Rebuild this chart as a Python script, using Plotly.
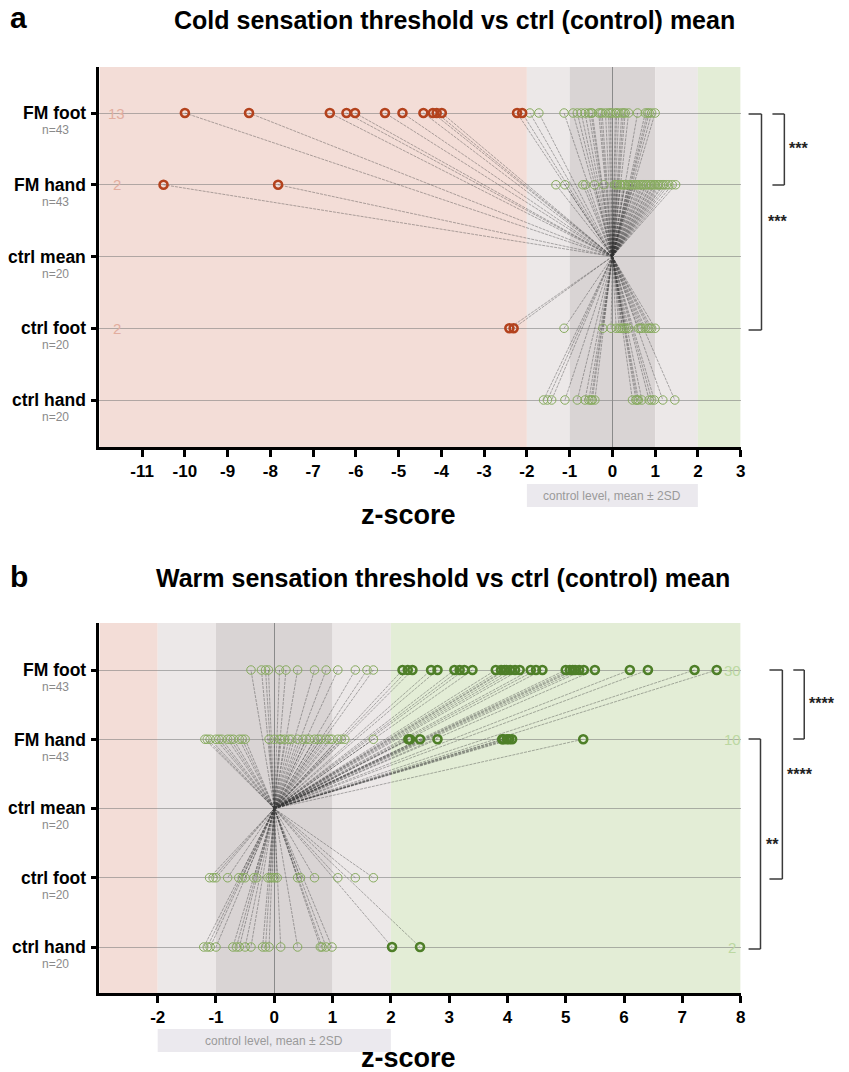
import plotly.graph_objects as go

# ---------------- data (z-scores) ----------------
rows = ["FM foot", "FM hand", "ctrl mean", "ctrl foot", "ctrl hand"]
row_n = ["n=43", "n=43", "n=20", "n=20", "n=20"]

cold_fm_foot = [-10.0, -8.5, -6.61, -6.22, -6.02, -5.32, -4.91, -4.42, -4.2, -4.11, -3.99, -2.23, -2.11,
                -1.93, -1.72, -1.13, -0.92, -0.82, -0.73, -0.64, -0.55, -0.5, -0.47, -0.32, -0.28, -0.24,
                -0.16, -0.09, -0.05, -0.01, 0.07, 0.1, 0.15, 0.22, 0.26, 0.30, 0.38, 0.59, 0.77, 0.82,
                0.86, 0.92, 1.0]
cold_fm_hand = [-10.5, -7.82, -1.32, -1.11, -0.69, -0.63, -0.42, -0.20,
                0.05, 0.09, 0.12, 0.18, 0.2, 0.25, 0.28, 0.3, 0.36, 0.38, 0.43, 0.47, 0.5, 0.55, 0.57,
                0.62, 0.66, 0.7, 0.73, 0.78, 0.8, 0.85, 0.9, 0.92, 0.97, 1.0, 1.05, 1.08, 1.12, 1.17,
                1.2, 1.26, 1.32, 1.4, 1.48]
cold_ctrl_foot = [-2.41, -2.31, -1.13, -0.22, -0.03, 0.09, 0.16, 0.2, 0.24, 0.28, 0.32, 0.38, 0.61,
                  0.65, 0.69, 0.77, 0.84, 0.88, 0.92, 1.0]
cold_ctrl_hand = [-1.61, -1.52, -1.42, -1.11, -0.82, -0.64, -0.55, -0.5, -0.47, -0.41, 0.47, 0.55,
                  0.58, 0.61, 0.69, 0.86, 0.92, 0.98, 1.18, 1.46]

warm_fm_foot = [-0.40, -0.22, -0.15, -0.10, 0.09, 0.20, 0.40, 0.69, 0.89, 1.09, 1.39, 1.59, 1.70,
                2.20, 2.29, 2.37, 2.69, 2.80, 3.09, 3.18, 3.26, 3.40, 3.80, 3.89, 3.95, 3.98, 4.05,
                4.13, 4.21, 4.40, 4.49, 4.60, 5.00, 5.07, 5.12, 5.16, 5.23, 5.31, 5.50, 6.10, 6.41,
                7.21, 7.59]
warm_fm_hand = [-1.19, -1.15, -1.10, -1.00, -0.95, -0.90, -0.80, -0.75, -0.70, -0.60, -0.55, -0.50,
                -0.09, 0.0, 0.09, 0.12, 0.18, 0.25, 0.30, 0.40, 0.49, 0.55, 0.60, 0.69, 0.75, 0.80,
                0.89, 0.95, 0.99, 1.09, 1.15, 1.21, 1.70,
                2.30, 2.33, 2.50, 2.80, 3.91, 3.93, 3.99, 4.03, 4.08, 5.30]
warm_ctrl_foot = [-1.11, -1.05, -1.00, -0.80, -0.61, -0.55, -0.50, -0.35, -0.30, -0.11, -0.07, -0.03,
                  0.01, 0.05, 0.40, 0.45, 0.69, 1.09, 1.39, 1.70]
warm_ctrl_hand = [-1.21, -1.15, -1.10, -1.00, -0.71, -0.65, -0.60, -0.50, -0.40, -0.20, -0.15, -0.09,
                  0.11, 0.40, 0.79, 0.82, 0.89, 0.99, 2.02, 2.50]

cold_ticks = list(range(-11, 4))
warm_ticks = list(range(-2, 9))
band_edges = [-2, -1, 1, 2]   # control level, mean ± 1SD / ± 2SD

# ---------------- styling ----------------
W, H = 849, 1072
FONT = "Liberation Sans, Arial, sans-serif"
RED = "#b3421d"
GREEN_BOLD = "#4e7f28"
GREEN_LIGHT = "#87ab5e"
C_RED_BG = "#f3ddd7"
C_LGRAY = "#ece8e8"
C_DGRAY = "#d9d4d4"
C_GREEN_BG = "#e3edd6"


def px(x):
    return x / W


def py(y):
    return 1 - y / H


fig = go.Figure()

panels = [
    dict(xa="x", ya="y", xaxis="xaxis", yaxis="yaxis",
         top=67, bottom=447, cat_y=[113, 185, 257, 328, 400],
         rng=[-12, 3], ticks=cold_ticks, data=[cold_fm_foot, cold_fm_hand, None, cold_ctrl_foot, cold_ctrl_hand],
         abnormal=lambda v: v < -2, bold_col=RED, cnt_col="#e2ad9f", cnt_x=-11.6,
         title="Cold sensation threshold vs ctrl (control) mean", title_y=20, title_x=457, letter="a",
         box_y=(484, 507), zs_y=515),
    dict(xa="x2", ya="y2", xaxis="xaxis2", yaxis="yaxis2",
         top=623, bottom=993, cat_y=[670, 740, 808, 878, 947],
         rng=[-3, 8], ticks=warm_ticks, data=[warm_fm_foot, warm_fm_hand, None, warm_ctrl_foot, warm_ctrl_hand],
         abnormal=lambda v: v > 2, bold_col=GREEN_BOLD, cnt_col="#bcd8a2", cnt_x=7.86,
         title="Warm sensation threshold vs ctrl (control) mean", title_y=578, title_x=446, letter="b",
         box_y=(1029, 1052), zs_y=1058),
]

shapes = []
annotations = []

for p in panels:
    y0, y1 = p["cat_y"][0], p["cat_y"][-1]
    unit = (y1 - y0) / 4
    yr = [4 + (p["bottom"] - y1) / unit, -(y0 - p["top"]) / unit]
    lo, hi = p["rng"]

    # background bands
    bands = [(lo, band_edges[0], C_RED_BG), (band_edges[0], band_edges[1], C_LGRAY),
             (band_edges[1], band_edges[2], C_DGRAY), (band_edges[2], band_edges[3], C_LGRAY),
             (band_edges[3], hi, C_GREEN_BG)]
    for a, b, c in bands:
        shapes.append(dict(type="rect", xref=p["xa"], yref=p["ya"] + " domain", x0=a, x1=b, y0=0, y1=1,
                           fillcolor=c, line_width=0, layer="below"))

    # connecting lines from ctrl mean (0, row 2)
    lx, ly = [], []
    for ri, vals in enumerate(p["data"]):
        if vals is None:
            continue
        for v in vals:
            lx += [0, v, None]
            ly += [2, ri, None]
    fig.add_trace(go.Scatter(x=lx, y=ly, mode="lines", xaxis=p["xa"], yaxis=p["ya"],
                             line=dict(color="rgba(55,55,55,0.65)", width=0.6, dash="3px,1px"),
                             hoverinfo="skip", showlegend=False))

    # markers
    for ri, vals in enumerate(p["data"]):
        if vals is None:
            continue
        norm = [v for v in vals if not p["abnormal"](v)]
        abn = [v for v in vals if p["abnormal"](v)]
        fig.add_trace(go.Scatter(x=norm, y=[ri] * len(norm), mode="markers", xaxis=p["xa"], yaxis=p["ya"],
                                 marker=dict(symbol="circle-open", size=8.5, color=GREEN_LIGHT,
                                             line=dict(width=1, color=GREEN_LIGHT)),
                                 showlegend=False))
        if abn:
            fig.add_trace(go.Scatter(x=abn, y=[ri] * len(abn), mode="markers", xaxis=p["xa"], yaxis=p["ya"],
                                     marker=dict(symbol="circle-open", size=8, color=p["bold_col"],
                                                 line=dict(width=2.6, color=p["bold_col"])),
                                     showlegend=False))
            annotations.append(dict(x=p["cnt_x"], y=ri, xref=p["xa"], yref=p["ya"], text=str(len(abn)),
                                    showarrow=False, font=dict(family=FONT, size=15, color=p["cnt_col"]),
                                    xanchor="center", yanchor="middle"))

    fig.update_layout(**{
        p["xaxis"]: dict(domain=[px(100), px(745)], range=[lo, hi], tickvals=p["ticks"],
                         ticktext=[str(t) for t in p["ticks"]], anchor=p["ya"],
                         showline=True, linewidth=3, linecolor="black", mirror=False,
                         ticks="outside", ticklen=7, tickwidth=2.5, tickcolor="black",
                         tickfont=dict(family=FONT, size=17, color="black", weight="bold"),
                         showgrid=False, zeroline=True, zerolinecolor="#8a8a8a", zerolinewidth=1),
        p["yaxis"]: dict(domain=[py(p["bottom"]), py(p["top"])], range=yr, anchor=p["xa"],
                         tickvals=[0, 1, 2, 3, 4], showticklabels=False,
                         showline=True, linewidth=3, linecolor="black",
                         ticks="outside", ticklen=5, tickwidth=3, tickcolor="black",
                         showgrid=True, gridcolor="rgba(120,120,120,0.55)", gridwidth=1,
                         zeroline=False),
    })

    # row labels
    for ri, cy in enumerate(p["cat_y"]):
        annotations.append(dict(x=px(89), y=py(cy), xref="paper", yref="paper", text="<b>" + rows[ri] + "</b>",
                                showarrow=False, xanchor="right", yanchor="middle",
                                font=dict(family=FONT, size=17.5, color="black")))
        annotations.append(dict(x=px(56), y=py(cy + 17), xref="paper", yref="paper", text=row_n[ri],
                                showarrow=False, xanchor="center", yanchor="middle",
                                font=dict(family=FONT, size=12, color="#8a8a8a")))

    # control level box
    shapes.append(dict(type="rect", xref=p["xa"], yref="paper", x0=band_edges[0], x1=band_edges[3],
                       y0=py(p["box_y"][1]), y1=py(p["box_y"][0]), fillcolor="#ebe9ee", line_width=0))
    annotations.append(dict(x=0, y=py(sum(p["box_y"]) / 2), xref=p["xa"], yref="paper",
                            text="control level, mean ± 2SD", showarrow=False,
                            font=dict(family=FONT, size=12, color="#9a9a9a"), xanchor="center", yanchor="middle"))
    # axis title
    annotations.append(dict(x=px(411), y=py(p["zs_y"]), xref="paper", yref="paper", text="<b>z-score</b>",
                            showarrow=False, font=dict(family=FONT, size=27, color="black"),
                            xanchor="center", yanchor="middle"))
    # panel titles
    annotations.append(dict(x=px(p["title_x"]), y=py(p["title_y"]), xref="paper", yref="paper",
                            text="<b>" + p["title"] + "</b>", showarrow=False,
                            font=dict(family=FONT, size=25, color="black"), xanchor="center", yanchor="middle"))
    annotations.append(dict(x=px(8), y=py(p["title_y"] - 2), xref="paper", yref="paper",
                            text="<b>" + p["letter"] + "</b>", showarrow=False,
                            font=dict(family=FONT, size=30, color="black"), xanchor="left", yanchor="middle"))


# significance brackets (pixel positions)
def bracket(x_tick0, x_v, y_top, y_bot, label, lx, ly):
    for yy in (y_top, y_bot):
        shapes.append(dict(type="line", xref="paper", yref="paper", x0=px(x_tick0), x1=px(x_v),
                           y0=py(yy), y1=py(yy), line=dict(color="#3a3a3a", width=1.5)))
    shapes.append(dict(type="line", xref="paper", yref="paper", x0=px(x_v), x1=px(x_v),
                       y0=py(y_top), y1=py(y_bot), line=dict(color="#3a3a3a", width=1.5)))
    annotations.append(dict(x=px(lx), y=py(ly), xref="paper", yref="paper", text="<b>" + label + "</b>",
                            showarrow=False, font=dict(family=FONT, size=16, color="#222"),
                            xanchor="center", yanchor="middle", yshift=-4))


bracket(777, 789, 114, 185, "***", 803, 145)
bracket(753, 766, 114, 330, "***", 782, 217)
bracket(798, 809, 670, 739, "****", 827, 699)
bracket(774, 787, 670, 879, "****", 805, 770)
bracket(753, 765, 739, 949, "**", 777, 840)

fig.update_layout(width=W, height=H, margin=dict(l=0, r=0, t=0, b=0),
                  paper_bgcolor="white", plot_bgcolor="white",
                  shapes=shapes, annotations=annotations, showlegend=False,
                  font=dict(family=FONT))

fig.write_html("out.html", config={"displayModeBar": False},
               post_script=("document.documentElement.style.overflow='hidden';"
                            "document.body.style.overflow='hidden';"
                            "document.body.style.margin='0px';document.body.style.padding='0px';"))
